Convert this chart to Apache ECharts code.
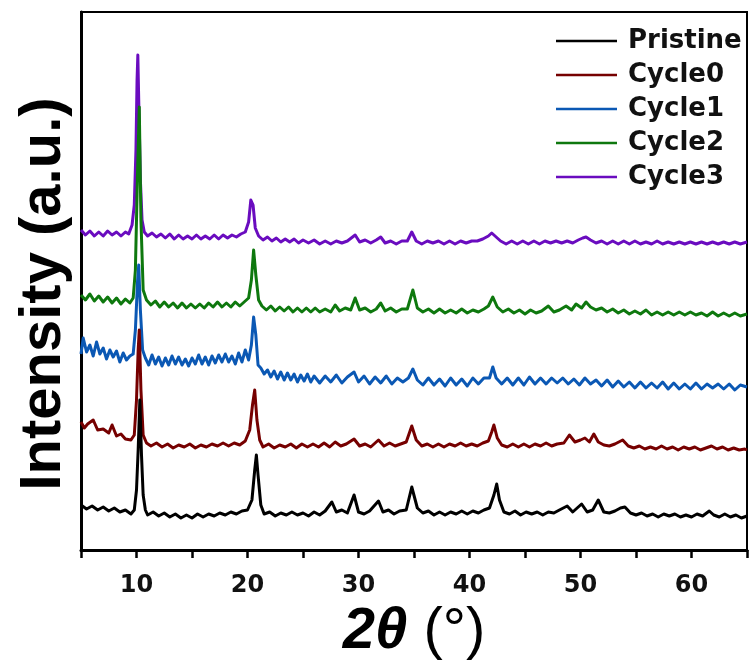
<!DOCTYPE html>
<html>
<head>
<meta charset="utf-8">
<script src="https://cdn.jsdelivr.net/npm/echarts@6/dist/echarts.min.js"></script>
<style>html,body{margin:0;padding:0;background:#fff}#c{width:749px;height:661px}</style>
</head>
<body>
<div id="c"></div>
<script>
const seriesNames = ['Pristine', 'Cycle0', 'Cycle1', 'Cycle2', 'Cycle3'];
const seriesColors = ['#000000', '#760000', '#0b58b4', '#0e780e', '#6a0cbf'];
const xTicks = [10, 20, 30, 40, 50, 60];

const pristine = [[5.0,45],[5.5,41],[6.0,44],[6.5,40],[7.0,43],[7.5,39],[8.0,42],[8.5,38],[9.0,40],[9.5,36],[9.8,40],[10.0,60],[10.15,100],[10.3,150],[10.45,95],[10.6,55],[10.8,40],[11.0,35],[11.5,38],[12.0,34],[12.5,37],[13.0,33],[13.5,36],[14.0,32],[14.5,35],[15.0,32],[15.5,36],[16.0,33],[16.5,36],[17.0,34],[17.5,37],[18.0,35],[18.5,38],[19.0,36],[19.5,39],[20.0,40],[20.4,50],[20.65,80],[20.8,95],[20.95,75],[21.2,45],[21.5,36],[22.0,38],[22.5,34],[23.0,37],[23.5,35],[24.0,38],[24.5,35],[25.0,37],[25.5,34],[26.0,38],[26.5,35],[27.0,39],[27.6,48],[28.0,38],[28.5,40],[29.0,37],[29.6,55],[30.0,38],[30.5,36],[31.0,39],[31.8,49],[32.2,38],[32.7,40],[33.2,36],[33.7,39],[34.3,40],[34.8,63],[35.3,42],[35.8,37],[36.3,39],[36.8,35],[37.3,38],[37.8,35],[38.3,38],[38.8,36],[39.3,39],[39.8,36],[40.3,39],[40.8,37],[41.3,40],[41.8,42],[42.2,55],[42.45,66],[42.7,50],[43.1,38],[43.6,36],[44.1,39],[44.6,35],[45.1,38],[45.6,36],[46.1,38],[46.6,35],[47.1,38],[47.6,37],[48.1,40],[48.8,44],[49.3,38],[50.1,46],[50.6,38],[51.1,40],[51.6,50],[52.1,38],[52.6,37],[53.1,39],[53.6,42],[54.0,43],[54.5,37],[55.0,35],[55.5,37],[56.0,34],[56.5,36],[57.0,33],[57.5,36],[58.0,34],[58.5,36],[59.0,33],[59.5,35],[60.0,33],[60.5,36],[61.0,34],[61.6,39],[62.0,35],[62.5,33],[63.0,36],[63.5,33],[64.0,35],[64.5,32],[65.0,34]];

const cycle0 = [[5.0,128],[5.3,122],[5.6,126],[6.1,130],[6.5,120],[7.0,121],[7.5,117],[7.8,125],[8.2,114],[8.6,116],[9.0,111],[9.5,110],[9.8,115],[10.0,150],[10.15,200],[10.25,220],[10.4,160],[10.6,115],[10.9,107],[11.3,104],[11.8,107],[12.3,103],[12.8,106],[13.3,102],[13.8,105],[14.3,103],[14.8,106],[15.3,102],[15.8,105],[16.3,103],[16.8,106],[17.3,104],[17.8,107],[18.3,104],[18.8,107],[19.3,105],[19.8,109],[20.2,120],[20.45,145],[20.65,160],[20.85,130],[21.1,110],[21.4,103],[21.9,106],[22.4,102],[22.9,105],[23.4,103],[23.9,106],[24.4,102],[24.9,106],[25.4,103],[25.9,106],[26.4,103],[26.9,107],[27.4,103],[27.9,108],[28.4,104],[28.9,106],[29.6,111],[30.1,104],[30.6,106],[31.1,103],[31.8,110],[32.3,104],[32.8,107],[33.3,104],[33.8,106],[34.3,108],[34.8,124],[35.2,110],[35.7,104],[36.2,106],[36.7,103],[37.2,106],[37.7,103],[38.2,106],[38.7,104],[39.2,107],[39.7,104],[40.2,106],[40.7,104],[41.2,107],[41.7,109],[42.0,118],[42.2,125],[42.5,112],[42.9,105],[43.4,103],[43.9,106],[44.4,103],[44.9,106],[45.4,103],[45.9,106],[46.4,104],[46.9,107],[47.4,104],[47.9,106],[48.5,107],[49.0,115],[49.5,108],[50.0,110],[50.4,112],[50.8,108],[51.2,116],[51.6,108],[52.1,105],[52.6,104],[53.1,106],[53.8,110],[54.3,104],[54.8,102],[55.3,104],[55.8,101],[56.3,103],[56.8,101],[57.3,104],[57.8,101],[58.3,103],[58.8,100],[59.3,103],[59.8,101],[60.3,103],[60.8,100],[61.3,102],[61.8,104],[62.3,101],[62.8,103],[63.3,100],[63.8,102],[64.3,100],[64.8,101],[65.0,100]];

const cycle1 = [[5.0,196],[5.2,212],[5.5,198],[5.8,205],[6.1,194],[6.4,208],[6.7,196],[7.0,202],[7.3,191],[7.6,200],[7.9,193],[8.2,199],[8.5,188],[8.8,197],[9.1,190],[9.4,194],[9.7,196],[9.9,220],[10.1,270],[10.2,285],[10.35,240],[10.55,200],[10.8,192],[11.1,185],[11.4,195],[11.7,186],[12.0,193],[12.3,184],[12.6,192],[12.9,185],[13.2,194],[13.5,186],[13.8,193],[14.1,185],[14.4,191],[14.7,184],[15.0,192],[15.3,186],[15.6,195],[15.9,186],[16.2,193],[16.5,185],[16.8,194],[17.1,187],[17.4,195],[17.7,188],[18.0,196],[18.3,188],[18.6,194],[18.9,186],[19.2,197],[19.5,188],[19.8,200],[20.1,190],[20.35,205],[20.55,233],[20.75,215],[20.95,185],[21.2,182],[21.5,176],[21.8,180],[22.1,173],[22.4,179],[22.7,171],[23.0,178],[23.3,170],[23.6,177],[23.9,170],[24.2,176],[24.5,168],[24.8,175],[25.1,169],[25.4,176],[25.7,168],[26.0,174],[26.5,167],[27.0,174],[27.5,168],[28.0,175],[28.5,167],[29.0,173],[29.6,178],[30.0,168],[30.5,174],[31.0,166],[31.5,173],[32.0,167],[32.5,174],[33.0,166],[33.5,172],[34.0,168],[34.5,172],[34.9,181],[35.3,170],[35.8,165],[36.3,172],[36.8,165],[37.3,171],[37.8,164],[38.3,172],[38.8,165],[39.3,171],[39.8,164],[40.3,172],[40.8,166],[41.3,172],[41.8,172],[42.1,183],[42.4,172],[42.9,166],[43.4,172],[43.9,165],[44.4,172],[44.9,165],[45.4,173],[45.9,166],[46.4,172],[46.9,166],[47.4,172],[47.9,167],[48.4,172],[48.9,166],[49.4,171],[49.9,165],[50.4,172],[50.9,166],[51.4,170],[51.9,164],[52.4,170],[52.9,163],[53.4,169],[53.9,163],[54.4,168],[54.9,162],[55.4,168],[55.9,162],[56.4,167],[56.9,162],[57.4,168],[57.9,161],[58.4,167],[58.9,161],[59.4,166],[59.9,161],[60.4,167],[60.9,161],[61.4,166],[61.9,162],[62.4,166],[62.9,161],[63.4,166],[63.9,160],[64.4,165],[65.0,163]];

const cycle2 = [[5.0,255],[5.4,250],[5.8,256],[6.2,249],[6.6,254],[7.0,248],[7.4,253],[7.8,247],[8.2,252],[8.6,246],[9.0,251],[9.4,247],[9.7,252],[9.9,280],[10.1,380],[10.25,443],[10.4,330],[10.6,260],[10.9,250],[11.3,245],[11.7,249],[12.1,243],[12.5,248],[12.9,243],[13.3,247],[13.7,242],[14.1,247],[14.5,242],[14.9,246],[15.3,242],[15.7,246],[16.1,242],[16.5,247],[16.9,243],[17.3,248],[17.7,243],[18.1,247],[18.5,243],[18.9,248],[19.3,244],[19.7,248],[20.1,252],[20.35,270],[20.55,300],[20.75,275],[21.0,250],[21.3,244],[21.7,240],[22.1,244],[22.5,239],[22.9,243],[23.3,239],[23.7,243],[24.1,238],[24.5,242],[24.9,238],[25.3,242],[25.7,238],[26.1,242],[26.5,238],[27.0,241],[27.5,238],[27.9,245],[28.3,239],[28.8,242],[29.3,240],[29.7,252],[30.1,240],[30.6,242],[31.1,238],[31.6,241],[32.0,247],[32.4,239],[32.9,242],[33.4,238],[33.9,241],[34.4,241],[34.9,260],[35.3,242],[35.8,238],[36.3,241],[36.8,237],[37.3,241],[37.8,237],[38.3,240],[38.8,237],[39.3,241],[39.8,237],[40.3,240],[40.8,238],[41.3,241],[41.7,244],[42.1,253],[42.5,243],[43.0,238],[43.5,241],[44.0,237],[44.5,240],[45.0,236],[45.5,240],[46.0,237],[46.5,239],[47.1,244],[47.6,238],[48.1,240],[48.7,244],[49.2,240],[49.6,246],[50.1,242],[50.5,248],[50.9,243],[51.4,240],[51.9,242],[52.4,238],[52.9,241],[53.4,237],[53.9,240],[54.4,236],[54.9,239],[55.4,236],[55.9,240],[56.4,235],[56.9,238],[57.4,235],[57.9,238],[58.4,235],[58.9,238],[59.4,235],[59.9,238],[60.4,235],[60.9,237],[61.4,234],[61.9,238],[62.4,234],[62.9,237],[63.4,234],[63.9,237],[64.4,234],[65.0,236]];

const cycle3 = [[5.0,320],[5.4,315],[5.8,319],[6.2,314],[6.6,318],[7.0,314],[7.4,319],[7.8,315],[8.2,318],[8.6,314],[9.0,318],[9.3,316],[9.6,325],[9.8,345],[9.95,400],[10.05,470],[10.12,495],[10.2,450],[10.35,370],[10.5,330],[10.7,318],[11.0,314],[11.4,317],[11.8,313],[12.2,316],[12.6,312],[13.0,316],[13.4,311],[13.8,315],[14.2,311],[14.6,314],[15.0,311],[15.4,315],[15.8,311],[16.2,314],[16.6,311],[17.0,315],[17.4,311],[17.8,315],[18.2,312],[18.6,315],[19.0,313],[19.4,316],[19.8,318],[20.1,328],[20.3,350],[20.5,345],[20.7,322],[21.0,314],[21.4,310],[21.8,313],[22.2,309],[22.6,312],[23.0,308],[23.4,311],[23.8,308],[24.2,311],[24.6,307],[25.0,310],[25.5,307],[26.0,310],[26.5,306],[27.0,309],[27.5,306],[28.0,309],[28.5,307],[29.0,309],[29.7,315],[30.1,308],[30.6,310],[31.1,307],[31.6,310],[32.0,313],[32.4,307],[32.9,309],[33.4,306],[33.9,309],[34.4,309],[34.8,318],[35.2,309],[35.7,306],[36.2,309],[36.7,307],[37.2,309],[37.7,306],[38.2,309],[38.7,306],[39.2,309],[39.7,307],[40.2,309],[40.7,309],[41.2,311],[41.7,314],[42.0,317],[42.4,313],[42.8,309],[43.3,306],[43.8,309],[44.3,306],[44.8,309],[45.3,306],[45.8,309],[46.3,306],[46.8,309],[47.3,307],[47.8,309],[48.3,307],[48.8,309],[49.3,307],[49.8,310],[50.2,312],[50.5,313],[50.9,310],[51.4,307],[51.9,309],[52.4,306],[52.9,309],[53.4,306],[53.9,309],[54.4,306],[54.9,309],[55.4,306],[55.9,308],[56.4,306],[56.9,309],[57.4,306],[57.9,308],[58.4,306],[58.9,308],[59.4,306],[59.9,308],[60.4,306],[60.9,308],[61.4,306],[61.9,308],[62.4,306],[62.9,308],[63.4,306],[63.9,308],[64.4,306],[65.0,308]];

const dataSets = [pristine, cycle0, cycle1, cycle2, cycle3];

const chart = echarts.init(document.getElementById('c'), null, {renderer: 'canvas'});

// draw Cycle3 first so Pristine ends on top
const series = [];
for (let i = dataSets.length - 1; i >= 0; i--) {
  series.push({
    name: seriesNames[i],
    type: 'line',
    data: dataSets[i],
    symbol: 'none',
    showSymbol: false,
    sampling: null,
    smooth: false,
    lineStyle: {width: 3, color: seriesColors[i], join: 'round'},
    itemStyle: {color: seriesColors[i]},
    emphasis: {disabled: true},
    animation: false
  });
}

chart.setOption({
  animation: false,
  backgroundColor: '#ffffff',
  grid: {
    left: 81, right: 2, top: 12, bottom: 111,
    outerBoundsMode: 'none',
    containLabel: false,
    show: true, borderColor: '#000', borderWidth: 2, backgroundColor: 'transparent'
  },
  legend: {
    data: seriesNames,
    orient: 'vertical',
    left: 551,
    top: 23,
    icon: 'rect',
    itemWidth: 61,
    itemHeight: 2.5,
    itemGap: 8,
    textStyle: {
      fontFamily: 'DejaVu Sans', fontWeight: 'bold', fontSize: 26, color: '#111',
      padding: [0, 0, 0, 6], lineHeight: 26
    }
  },
  xAxis: {
    type: 'value',
    min: 5, max: 65, interval: 5,
    name: '{a|2θ}{b| (°)}',
    nameLocation: 'middle',
    nameGap: 36,
    nameTextStyle: {
      rich: {
        a: {fontFamily: 'Liberation Sans', fontWeight: 'bold', fontStyle: 'italic', fontSize: 58, color: '#000'},
        b: {fontFamily: 'Liberation Sans', fontWeight: 'normal', fontSize: 58, color: '#000'}
      }
    },
    axisLine: {show: true, onZero: false, lineStyle: {color: '#000', width: 3}},
    axisTick: {show: true, inside: false, length: 8, lineStyle: {color: '#000', width: 2.5}},
    axisLabel: {
      margin: 24,
      fontFamily: 'DejaVu Sans', fontWeight: 'bold', fontSize: 24, color: '#111',
      formatter: function (v) { return xTicks.indexOf(v) >= 0 ? String(v) : ''; }
    },
    splitLine: {show: false}
  },
  yAxis: {
    type: 'value',
    min: 0, max: 538,
    name: 'Intensity (a.u.)',
    nameLocation: 'middle',
    nameGap: 8,
    nameRotate: 90,
    nameTextStyle: {fontFamily: 'Liberation Sans', fontWeight: 'bold', fontSize: 58, color: '#000', padding: [0, 26, 0, 0]},
    axisLine: {show: true, onZero: false, lineStyle: {color: '#000', width: 3}},
    axisTick: {show: false},
    axisLabel: {show: false},
    splitLine: {show: false}
  },
  series: series
});
</script>
</body>
</html>
